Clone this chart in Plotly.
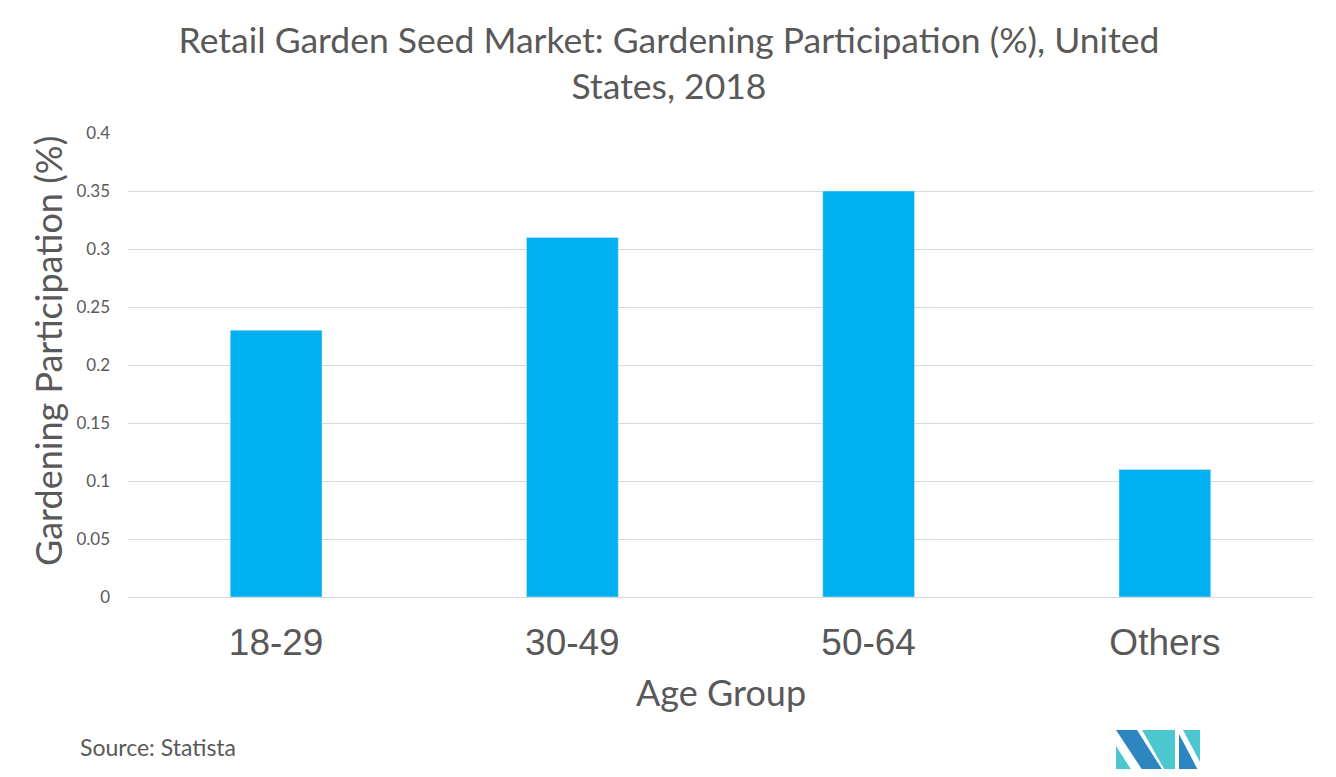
import plotly.graph_objects as go

categories = ["18-29", "30-49", "50-64", "Others"]
values = [0.23, 0.31, 0.35, 0.11]
tick_vals = [0, 0.05, 0.1, 0.15, 0.2, 0.25, 0.3, 0.35, 0.4]
tick_text = ["0", "0.05", "0.1", "0.15", "0.2", "0.25", "0.3", "0.35", "0.4"]

# page has an 8px body margin; work in screenshot pixel coordinates
OFF = 8
W, H = 1320, 761
PX0, PX1 = 128, 1313   # plot area in screenshot px
PY0, PY1 = 133, 597
L = PX0 - OFF
T = PY0 - OFF
PW = PX1 - PX0
PH = PY1 - PY0
R = W - L - PW
B = H - T - PH


def px(x):
    return (x - PX0) / PW


def py(y):
    return (PY1 - y) / PH


fig = go.Figure(go.Bar(x=categories, y=values, marker_color="#00B0F0", width=0.31))

fig.update_layout(
    width=W, height=H,
    margin=dict(l=L, r=R, t=T, b=B),
    paper_bgcolor="white", plot_bgcolor="white",
    showlegend=False,
    title=dict(
        text="Retail Garden Seed Market: Gardening Participation (%), United<br>States, 2018",
        x=(669 - OFF) / W, xanchor="center", xref="container",
        y=1 - (53 - OFF) / H, yanchor="middle", yref="container",
        font=dict(family="Lato", size=35.5, color="#595959"),
    ),
    xaxis=dict(
        tickfont=dict(family="Liberation Sans", size=37, color="#595959"),
        showgrid=False, showline=False, ticks="",
        ticklabelstandoff=20,
    ),
    yaxis=dict(
        range=[0, 0.4],
        tickvals=tick_vals, ticktext=tick_text,
        tickfont=dict(family="Lato", size=17, color="#595959"),
        showgrid=True, gridcolor="#D9D9D9", gridwidth=1,
        zeroline=True, zerolinecolor="#D9D9D9", zerolinewidth=1,
        ticks="", ticklabelstandoff=17,
    ),
    annotations=[
        dict(text="Age Group", x=px(721), y=py(692), xref="paper", yref="paper",
             xanchor="center", yanchor="middle", showarrow=False,
             font=dict(family="Lato", size=36, color="#595959")),
        dict(text="Gardening Participation (%)", x=px(48), y=py(351), xref="paper", yref="paper",
             xanchor="center", yanchor="middle", showarrow=False, textangle=-90,
             font=dict(family="Lato", size=36, color="#595959")),
        dict(text="Source: Statista", x=px(78), y=py(747), xref="paper", yref="paper",
             xanchor="left", yanchor="middle", showarrow=False,
             font=dict(family="Lato", size=23, color="#595959")),
    ],
)

dark = "#2E86C1"
teal = "#4CC6CF"


def poly(pts, color):
    d = "M " + " L ".join(f"{px(x):.5f},{py(y):.5f}" for x, y in pts) + " Z"
    return dict(type="path", path=d, xref="paper", yref="paper", fillcolor=color, line=dict(width=0))


fig.update_layout(shapes=[
    poly([(1116, 746), (1116, 774), (1134, 774)], teal),
    poly([(1116, 730), (1137, 730), (1165, 774), (1145, 774)], dark),
    poly([(1142, 730), (1175, 730), (1175, 774), (1167, 774)], teal),
    poly([(1179, 734), (1179, 774), (1200, 774)], dark),
    poly([(1183, 730), (1200, 730), (1200, 762)], teal),
])

fig.write_html("out.html")
